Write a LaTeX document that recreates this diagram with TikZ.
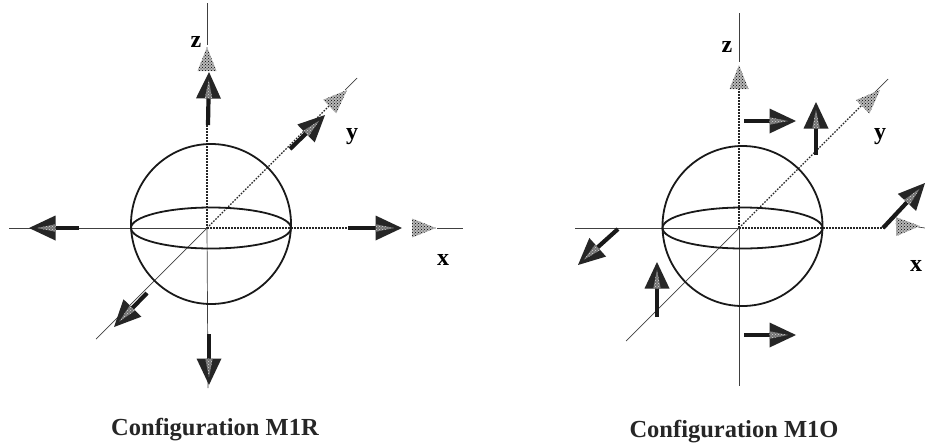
\documentclass[tikz,border=0pt]{standalone}
\usepackage{fontspec}
\setmainfont{Liberation Serif}
\usetikzlibrary{calc,patterns}
\tikzset{
  thinaxis/.style={line width=.7pt,black!75},
  dotaxis/.style={line width=1.3pt,black!85,dash pattern=on 1.6pt off 1.4pt},
  ring/.style={line width=1.8pt,black!90},
  shaft/.style={line width=4.2pt,black!90},
  lab/.style={font=\bfseries\fontsize{24}{24}\selectfont,inner sep=0pt},
  captext/.style={font=\fontsize{24.5}{25}\selectfont\bfseries,inner sep=0pt,black!85}
}
\newcommand{\darkarrow}[2]{%
  \draw[shaft] (#1) -- ($(#2)!25pt!(#1)$);
  \coordinate (hb) at ($(#2)!26.5pt!(#1)$);
  \coordinate (hl) at ($(hb)!12.5pt!90:(#2)$);
  \coordinate (hr) at ($(hb)!12.5pt!-90:(#2)$);
  \fill[black!85] (#2) -- (hl) -- (hr) -- cycle;
  \fill[black!55] ($(#2)!.3!(hb)$) -- ($(hb)!.3!(hl)$) -- ($(hb)!.3!(hr)$) -- cycle;
  \fill[pattern=crosshatch dots,pattern color=black!15]
     ($(#2)!.3!(hb)$) -- ($(hb)!.3!(hl)$) -- ($(hb)!.3!(hr)$) -- cycle;
}
\newcommand{\ghosthead}[2]{%
  \coordinate (hb) at ($(#2)!24pt!(#1)$);
  \coordinate (hl) at ($(hb)!9.5pt!90:(#2)$);
  \coordinate (hr) at ($(hb)!9.5pt!-90:(#2)$);
  \fill[black!28] (#2) -- (hl) -- (hr) -- cycle;
  \fill[pattern=crosshatch dots,pattern color=black] (#2) -- (hl) -- (hr) -- cycle;
}
\begin{document}
\begin{tikzpicture}[x=1pt,y=-1pt]
\useasboundingbox (0,0) rectangle (925,447);
% ---------- left figure: M1R
\coordinate (cL) at (207,228);
\coordinate (zLt) at (207,3);
\coordinate (zLb) at (208,388);
\coordinate (xLl) at (9,228);
\coordinate (xLr) at (463,228);
\coordinate (yLb) at (96,339);
\coordinate (yLt) at (357,78);
\draw[thinaxis] (zLt) -- (207,45);
\draw[dotaxis] (207,125) -- (cL);
\draw[thinaxis] (cL) -- (zLb);
\draw[thinaxis] (xLl) -- (cL);
\draw[dotaxis] (cL) -- (400,228);
\draw[thinaxis] (437,228) -- (xLr);
\draw[thinaxis] (yLb) -- (cL);
\draw[dotaxis] (cL) -- (338,97);
\draw[thinaxis] (345,90) -- (yLt);
\draw[ring] (211,224) circle[x radius=80,y radius=80];
\draw[ring] (211,228) ellipse[x radius=80,y radius=20.5];
\ghosthead{207,120}{207,47}
\ghosthead{300,135}{347,90}
\ghosthead{350,228}{436,228}
\darkarrow{208,125}{209,72}
\darkarrow{290,149}{325,115}
\darkarrow{79,228}{29,228}
\darkarrow{348,228}{402,228}
\darkarrow{209,334}{209,385}
\darkarrow{147,293}{114,327}
\node[lab] (zL) at (196,42) {z};
\node[lab] (yL) at (352,137) {y};
\node[lab] (xL) at (443,260) {x};
\node[captext] (capL) at (215,430) {Configuration M1R};
% ---------- right figure: M1O
\coordinate (cR) at (739,228);
\coordinate (zRt) at (739,13);
\coordinate (zRb) at (739,386);
\coordinate (xRl) at (575,228);
\coordinate (xRr) at (925,228);
\coordinate (yRb) at (626,341);
\coordinate (yRt) at (888,79);
\draw[thinaxis] (zRt) -- (739,62);
\draw[dotaxis] (739,88) -- (cR);
\draw[thinaxis] (cR) -- (zRb);
\draw[thinaxis] (xRl) -- (cR);
\draw[dotaxis] (cR) -- (885,228);
\draw[thinaxis] (918,227) -- (xRr);
\draw[thinaxis] (yRb) -- (cR);
\draw[dotaxis] (cR) -- (866,101);
\draw[thinaxis] (870,97) -- (yRt);
\draw[ring] (742.5,226) circle[x radius=80,y radius=80];
\draw[ring] (742.5,228) ellipse[x radius=80,y radius=20.5];
\ghosthead{739,120}{739,65}
\ghosthead{840,129}{880,90}
\ghosthead{880,227}{920,226}
\darkarrow{744,121}{796,121}
\darkarrow{816,155}{816,102}
\darkarrow{883,228}{925,183}
\darkarrow{618,229}{578,265}
\darkarrow{657,317}{657,262}
\darkarrow{744,335}{796,335}
\node[lab] (zR) at (727,47) {z};
\node[lab] (yR) at (880,137) {y};
\node[lab] (xR) at (916,266) {x};
\node[captext] (capR) at (734,432) {Configuration M1O};
\end{tikzpicture}
\end{document}
